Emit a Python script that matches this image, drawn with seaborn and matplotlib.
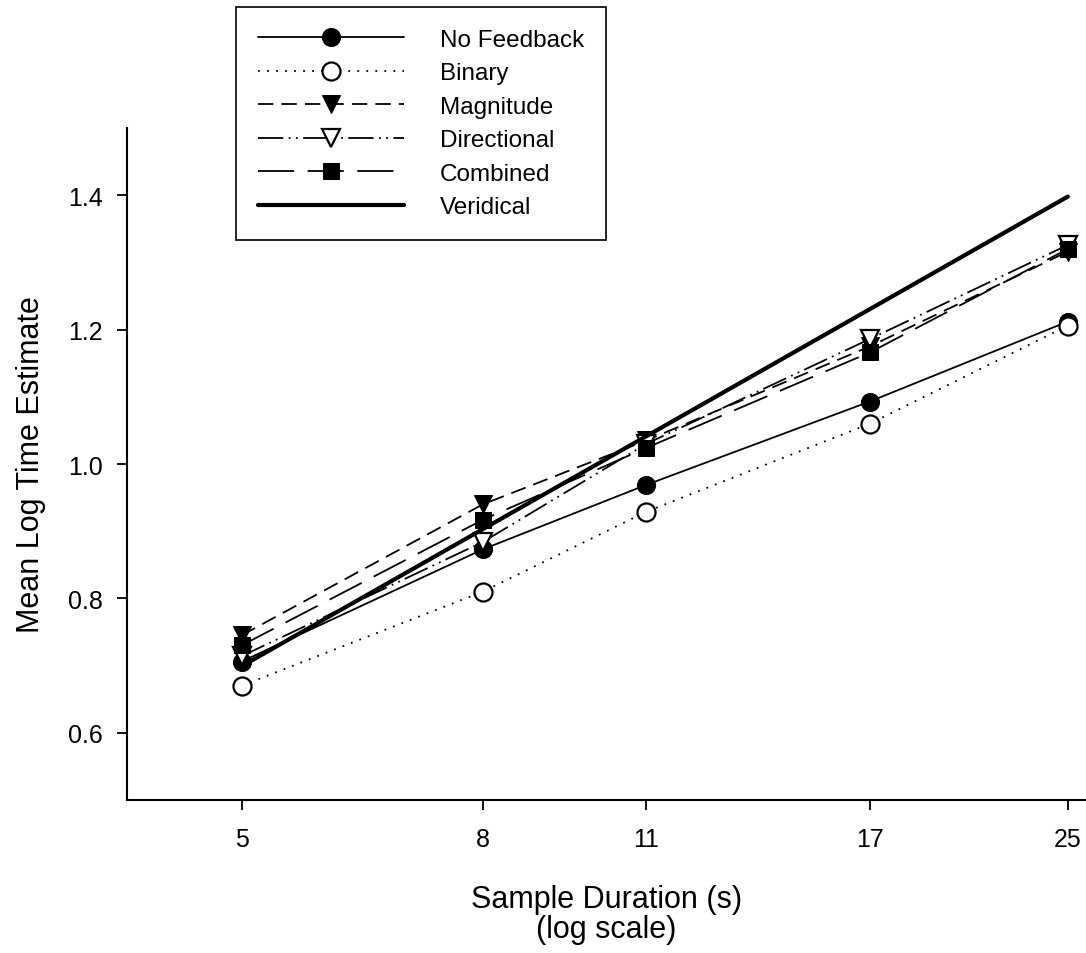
import numpy as np
import pandas as pd
import matplotlib
matplotlib.use("Agg")
import matplotlib.pyplot as plt
import seaborn as sns

# Sample durations (s) and mean log time estimates per feedback condition
durations = [5, 8, 11, 17, 25]
no_feedback = [0.706, 0.873, 0.969, 1.093, 1.212]
binary = [0.670, 0.810, 0.929, 1.060, 1.206]
magnitude = [0.745, 0.940, 1.035, 1.175, 1.316]
directional = [0.714, 0.884, 1.030, 1.186, 1.326]
combined = [0.730, 0.917, 1.024, 1.166, 1.320]
# Veridical estimate: log of the true duration
veridical = list(np.log10(durations))

x_ticks = [5, 8, 11, 17, 25]
y_ticks = [0.6, 0.8, 1.0, 1.2, 1.4]

sns.set_theme(style="white")
plt.rcParams["font.family"] = ["Liberation Sans", "DejaVu Sans"]
plt.rcParams["text.color"] = "black"
plt.rcParams["axes.labelcolor"] = "black"

fig = plt.figure(figsize=(10.86, 9.54), dpi=100)
ax = fig.add_axes([127 / 1086, 1 - 801 / 954, 1 - 127 / 1086, (801 - 129) / 954])

series = [
    ("No Feedback", no_feedback, dict(linestyle="-", lw=1.3, marker="o", mfc="black", mec="black", ms=13)),
    ("Binary", binary, dict(linestyle=(0, (1, 4)), lw=1.3, marker="o", mfc="white", mec="black", mew=1.6, ms=13)),
    ("Magnitude", magnitude, dict(linestyle=(0, (8.5, 4.5)), lw=1.3, marker="v", mfc="black", mec="black", ms=13)),
    ("Directional", directional, dict(linestyle=(0, (14, 3, 1, 3, 1, 3)), lw=1.3, marker="v", mfc="white", mec="black", mew=1.6, ms=13)),
    ("Combined", combined, dict(linestyle=(0, (20, 7.5)), lw=1.3, marker="s", mfc="black", mec="black", ms=12)),
]

for name, vals, kw in series:
    sns.lineplot(x=durations, y=vals, ax=ax, color="black", label=name,
                 legend=False, **kw)

sns.lineplot(x=durations, y=veridical, ax=ax, color="black", lw=3, label="Veridical",
             legend=False)

ax.set_xscale("log")
ax.set_xlim(4.0, 25.9)
ax.set_ylim(0.5, 1.5)
ax.set_xticks(x_ticks)
ax.set_xticklabels([str(t) for t in x_ticks])
ax.xaxis.set_minor_locator(matplotlib.ticker.NullLocator())
ax.set_yticks(y_ticks)
ax.set_yticklabels([f"{t:.1f}" for t in y_ticks])

for side in ["top", "right"]:
    ax.spines[side].set_visible(False)
for side in ["left", "bottom"]:
    ax.spines[side].set_color("black")
    ax.spines[side].set_linewidth(1.5)

ax.tick_params(axis="both", which="major", direction="out", length=7.5, width=1.3,
               color="black", labelsize=18, labelcolor="black", left=True, bottom=True)
ax.tick_params(axis="x", pad=12)
ax.tick_params(axis="y", pad=10)

ax.set_xlabel("Sample Duration (s)\n(log scale)", fontsize=22, color="black", labelpad=24,
              linespacing=1.0)
ax.set_ylabel("Mean Log Time Estimate", fontsize=22, color="black", labelpad=16)

handles, labels = ax.get_legend_handles_labels()
leg = fig.legend(handles, labels, loc="upper left",
                 bbox_to_anchor=(236 / 1086, 1 - 8 / 954), bbox_transform=fig.transFigure,
                 borderaxespad=0, frameon=True, fancybox=False, shadow=False,
                 fontsize=17.5, handlelength=6.0, handletextpad=1.5, labelspacing=0.47,
                 borderpad=0.9, numpoints=1, labelcolor="black")
leg.get_frame().set_edgecolor("black")
leg.get_frame().set_linewidth(1.2)
leg.get_frame().set_facecolor("white")
leg.get_frame().set_alpha(1)

fig.savefig("out.png", dpi=100)
